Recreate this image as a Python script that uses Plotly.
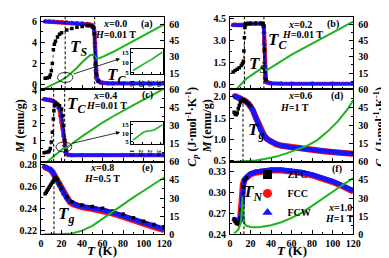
import plotly.graph_objects as go

W, H = 389, 258
FONT = "Liberation Serif"

# ---------------- data ----------------
# (a) x=0.0, H=0.01 T
Ta_zfc = [4, 6, 8, 9, 10, 11, 12, 13, 14, 16, 18, 20, 25, 30, 35, 40, 45, 48, 50, 51, 52, 53, 54, 56]
Ma_zfc = [0.6, 0.62, 0.7, 0.9, 1.3, 2.0, 3.3, 3.8, 4.1, 4.5, 4.75, 4.9, 5.15, 5.3, 5.42, 5.5, 5.55, 5.55, 5.5, 5.4, 4.8, 2.0, 1.0, 0.35]
Ta_fc = [4, 8, 12, 16, 20, 25, 30, 35, 40, 45, 48, 50, 51, 52, 52.5, 53, 53.5, 54, 55, 56, 58, 60, 65, 70, 80, 90, 100, 110, 120]
Ma_fcc = [5.97, 5.95, 5.93, 5.91, 5.89, 5.86, 5.83, 5.8, 5.77, 5.72, 5.66, 5.58, 5.45, 5.0, 3.6, 1.8, 1.3, 0.9, 0.5, 0.32, 0.2, 0.15, 0.12, 0.11, 0.1, 0.1, 0.1, 0.1, 0.1]
Ma_fcw = [5.95, 5.93, 5.91, 5.89, 5.87, 5.84, 5.81, 5.78, 5.75, 5.7, 5.64, 5.55, 5.4, 4.8, 4.0, 2.6, 1.4, 0.9, 0.5, 0.3, 0.2, 0.15, 0.12, 0.11, 0.1, 0.1, 0.1, 0.1, 0.1]
Ta_cp = [3, 10, 15, 20, 25, 30, 35, 40, 45, 48, 50, 52, 54, 57, 60, 70, 80, 90, 100, 110, 120]
Cpa = [0.5, 3.5, 6, 8.5, 11.5, 15.5, 20, 25, 29.5, 31.8, 32, 30.5, 28.8, 29, 30, 34.5, 39.5, 44.5, 50, 55, 60]
Ta_in = [15, 17, 19, 21, 23, 25, 27, 29, 31]
Cpa_in = [5.8, 7, 8.1, 9.2, 10.3, 11.3, 12.5, 13.8, 15]

# (b) x=0.2, H=0.01 T
Tb_zfc = [3, 5, 7, 9, 11, 12, 13, 13.5, 14, 14.5, 15, 17, 20, 25, 30, 32, 33, 33.5, 34, 35]
Mb_zfc = [0.85, 0.95, 1.05, 1.15, 1.3, 1.42, 1.6, 2.3, 3.2, 3.9, 4.15, 4.18, 4.19, 4.19, 4.19, 4.17, 4.0, 2.4, 0.9, 0.35]
Tb_fc = [3, 5, 8, 11, 13, 14, 15, 17, 20, 25, 30, 32, 33, 33.3, 33.6, 34, 34.5, 35, 36, 38, 40, 50, 60, 80, 100, 120]
Mb_fcc = [4.08, 4.07, 4.06, 4.05, 4.05, 4.08, 4.13, 4.15, 4.16, 4.17, 4.17, 4.14, 3.9, 3.0, 1.5, 0.6, 0.35, 0.22, 0.15, 0.1, 0.08, 0.06, 0.05, 0.05, 0.05, 0.05]
Mb_fcw = [4.08, 4.07, 4.06, 4.05, 4.05, 4.08, 4.13, 4.15, 4.16, 4.17, 4.17, 4.12, 3.6, 2.8, 2.3, 1.2, 0.45, 0.25, 0.15, 0.1, 0.08, 0.06, 0.05, 0.05, 0.05, 0.05]
Tb_cp = [6, 10, 13, 16, 20, 25, 30, 32, 33, 34, 36, 40, 50, 60, 70, 80, 90, 100, 110, 120]
Cpb = [0, 4, 7.5, 10, 12.5, 16, 19.5, 20.5, 19.8, 17.5, 17.8, 20, 26, 32, 37, 42, 47, 52, 57, 62.5]

# (c) x=0.4, H=0.01 T
Tc_zfc = [3, 5, 7, 8, 9, 10, 11, 12, 12.5, 13, 14, 16, 18, 20, 21, 22, 23, 24]
Mc_zfc = [0.25, 0.28, 0.3, 0.35, 0.5, 0.9, 1.5, 2.3, 2.8, 3.1, 3.25, 3.2, 3.1, 2.9, 2.5, 1.9, 1.0, 0.4]
Tc_fc = [3, 5, 8, 10, 12, 14, 16, 17, 18, 19, 20, 21, 22, 23, 24, 25, 27, 30, 40, 60, 80, 100, 120]
Mc_fcc = [3.5, 3.48, 3.46, 3.43, 3.38, 3.3, 3.2, 3.1, 2.9, 2.5, 2.1, 1.7, 1.3, 0.7, 0.3, 0.17, 0.12, 0.1, 0.1, 0.1, 0.1, 0.1, 0.1]
Mc_fcw = [3.5, 3.48, 3.46, 3.43, 3.38, 3.3, 3.15, 3.0, 2.95, 2.8, 2.5, 1.9, 1.3, 0.7, 0.3, 0.17, 0.12, 0.1, 0.1, 0.1, 0.1, 0.1, 0.1]
Tc_cp = [6, 10, 15, 20, 22, 24, 26, 30, 40, 50, 60, 70, 80, 90, 100, 110, 120]
Cpc = [0, 3, 6.5, 10, 11, 11.2, 12.2, 15, 21, 27, 32.5, 37.5, 42.5, 47, 51.5, 56, 60.5]
Tc_in = [15, 17, 19, 20, 21, 22, 23, 24, 25, 26, 27, 28, 29, 30, 31]
Cpc_in = [6, 7.8, 9.3, 10, 10.6, 11, 11.2, 11.2, 11.3, 11.6, 12.1, 12.7, 13.3, 14, 14.7]

# (d) x=0.6, H=1 T
Td_zfc = [4, 5, 6, 7, 8, 9, 10, 11, 12, 13, 14, 16, 18, 20]
Md_zfc = [1.64, 1.6, 1.58, 1.62, 1.72, 1.8, 1.87, 1.92, 1.94, 1.93, 1.91, 1.88, 1.84, 1.79]
Td_fc = [4, 6, 8, 10, 12, 15, 18, 20, 22, 25, 28, 30, 33, 36, 40, 45, 50, 60, 70, 80, 90, 100, 110, 120]
Md_fcc = [2.03, 2.01, 2.0, 1.98, 1.95, 1.9, 1.84, 1.78, 1.7, 1.52, 1.33, 1.22, 1.1, 1.01, 0.94, 0.88, 0.85, 0.81, 0.78, 0.75, 0.72, 0.7, 0.68, 0.66]
Md_fcw = [2.03, 2.01, 2.0, 1.98, 1.95, 1.9, 1.84, 1.78, 1.7, 1.52, 1.33, 1.22, 1.1, 1.01, 0.94, 0.88, 0.85, 0.81, 0.78, 0.75, 0.72, 0.7, 0.68, 0.66]
Td_cp = [5, 15, 25, 35, 45, 55, 65, 75, 85, 95, 105, 115, 120]
Cpd = [0, 0.3, 1, 2.5, 4.3, 7, 10, 13.2, 18, 25, 33.5, 44, 51]

# (e) x=0.8, H=0.5 T
Te_zfc = [4, 5, 6, 7, 8, 9, 10, 11, 12, 13, 14, 16, 18, 20, 25, 30, 40, 50, 60, 70, 80, 90, 100, 110, 120]
Me_zfc = [0.2535, 0.255, 0.2565, 0.258, 0.2595, 0.261, 0.2625, 0.264, 0.2655, 0.267, 0.2685, 0.2665, 0.2625, 0.2585, 0.2508, 0.2462, 0.2432, 0.2418, 0.2402, 0.2378, 0.235, 0.2317, 0.2283, 0.2255, 0.2228]
Te_fc = [3, 6, 9, 11, 12.5, 14, 16, 18, 20, 22, 25, 28, 31, 35, 40, 50, 60, 70, 80, 90, 100, 110, 120]
Me_fcc = [0.278, 0.277, 0.2755, 0.2735, 0.271, 0.2685, 0.265, 0.261, 0.257, 0.2533, 0.249, 0.246, 0.244, 0.2424, 0.2412, 0.2397, 0.238, 0.2354, 0.2325, 0.229, 0.2257, 0.223, 0.2204]
Me_fcw = [0.2785, 0.2775, 0.276, 0.274, 0.2715, 0.269, 0.2655, 0.2615, 0.2575, 0.254, 0.2498, 0.2468, 0.2448, 0.2432, 0.242, 0.2405, 0.2388, 0.2362, 0.2333, 0.2298, 0.2265, 0.2238, 0.2212]
Te_cp = [3, 10, 20, 30, 40, 50, 60, 70, 80, 90, 100, 110, 120]
Cpe = [0, 0, 0.2, 0.7, 3, 7, 13, 19, 25, 30.5, 36, 41.5, 47]

# (f) x=1.0, H=1 T
Tf_zfc = [4, 5, 6, 7, 8, 9, 10, 11, 12, 13, 14, 16]
Mf_zfc = [0.262, 0.259, 0.256, 0.255, 0.2555, 0.258, 0.263, 0.275, 0.29, 0.308, 0.317, 0.321]
Tf_fc = [4, 5, 6, 8, 10, 11, 12, 12.5, 13, 14, 16, 20, 25, 30, 40, 50, 60, 70, 80, 90, 100, 110, 120]
Mf_fcc = [0.261, 0.26, 0.258, 0.2565, 0.264, 0.275, 0.3, 0.312, 0.315, 0.318, 0.321, 0.326, 0.3285, 0.33, 0.3315, 0.3315, 0.3305, 0.328, 0.3245, 0.32, 0.315, 0.3085, 0.3015]
Mf_fcw = [0.262, 0.261, 0.259, 0.2575, 0.26, 0.268, 0.285, 0.3, 0.31, 0.318, 0.322, 0.327, 0.3295, 0.331, 0.3325, 0.3325, 0.3315, 0.329, 0.3255, 0.321, 0.316, 0.3095, 0.3025]
Tf_cp = [4, 6, 8, 10, 11, 11.5, 12, 12.5, 13, 14, 16, 18, 20, 25, 30, 40, 50, 60, 70, 80, 90, 100, 110, 120]
Cpf = [1, 2, 4, 8, 14, 22, 31, 25, 15, 9, 7, 6.3, 6, 5.8, 6, 7.5, 10, 13.5, 18, 23.5, 29.5, 35.5, 41, 46.5]

# transition temperatures (dashed markers)
Ta_trans = [23.5, 52.3]
Tb_trans = [14, 33]
Tc_trans = [12.3, 23]
Td_trans = [12.6]
Te_trans = [12.6]
Tf_trans = [13.5]

series_names = ["ZFC", "FCC", "FCW"]

# ---------------- helpers ----------------
def PX(x):
    return x / W

def PY(y):
    return 1 - y / H

cols = [(30, 157), (225, 352)]
rows = [(3, 79), (79, 155), (155, 231)]

BLACK, RED, BLUE, GREEN = "#000000", "#ff1010", "#1515ff", "#1cb41c"
tickfont = dict(family=FONT, size=10, color="black", weight="bold")

panels = [
    dict(col=0, row=0, Tz=Ta_zfc, Mz=Ma_zfc, Tf=Ta_fc, Mc=Ma_fcc, Mw=Ma_fcw, Tp=Ta_cp, Cp=Cpa,
         mr=[-0.45, 6.4], mt=[0, 2, 4, 6], mfmt="", mminor=1, mt0=0, cr=[0, 67], ct=[15, 30, 45, 60], bw=3.0),
    dict(col=1, row=0, Tz=Tb_zfc, Mz=Mb_zfc, Tf=Tb_fc, Mc=Mb_fcc, Mw=Mb_fcw, Tp=Tb_cp, Cp=Cpb,
         mr=[-0.33, 4.63], mt=[0, 1.5, 3, 4.5], mfmt=".1f", mminor=0.75, mt0=0, cr=[0, 67], ct=[15, 30, 45, 60], bw=3.0),
    dict(col=0, row=1, Tz=Tc_zfc, Mz=Mc_zfc, Tf=Tc_fc, Mc=Mc_fcc, Mw=Mc_fcw, Tp=Tc_cp, Cp=Cpc,
         mr=[-0.3, 4.1], mt=[0, 1, 2, 3, 4], mfmt="", mminor=0.5, mt0=0, cr=[0, 60], ct=[15, 30, 45, 60], bw=3.0),
    dict(col=1, row=1, Tz=Td_zfc, Mz=Md_zfc, Tf=Td_fc, Mc=Md_fcc, Mw=Md_fcw, Tp=Td_cp, Cp=Cpd,
         mr=[0.47, 2.18], mt=[0.5, 1.0, 1.5, 2.0], mfmt=".1f", mminor=0.25, mt0=0.5, cr=[0, 60], ct=[15, 30, 45, 60], bw=5.0),
    dict(col=0, row=2, Tz=Te_zfc, Mz=Me_zfc, Tf=Te_fc, Mc=Me_fcc, Mw=Me_fcw, Tp=Te_cp, Cp=Cpe,
         mr=[0.2165, 0.2828], mt=[0.22, 0.24, 0.26, 0.28], mfmt=".2f", mminor=0.01, mt0=0.22, cr=[0, 60], ct=[0, 15, 30, 45, 60], bw=5.0),
    dict(col=1, row=2, Tz=Tf_zfc, Mz=Mf_zfc, Tf=Tf_fc, Mc=Mf_fcc, Mw=Mf_fcw, Tp=Tf_cp, Cp=Cpf,
         mr=[0.24, 0.344], mt=[0.24, 0.27, 0.30, 0.33], mfmt=".2f", mminor=0.015, mt0=0.24, cr=[0, 60], ct=[0, 15, 30, 45, 60], bw=5.0),
]

fig = go.Figure()
layout = {}

for i, p in enumerate(panels, start=1):
    xa = "x" if i == 1 else f"x{i}"
    ym_i, yc_i = 2 * i - 1, 2 * i
    ym = "y" if ym_i == 1 else f"y{ym_i}"
    yc = f"y{yc_i}"
    x0, x1 = cols[p["col"]]
    y0, y1 = rows[p["row"]]
    xdom = [PX(x0), PX(x1)]
    ydom = [PY(y1), PY(y0)]
    bottom = p["row"] == 2

    layout["xaxis" if i == 1 else f"xaxis{i}"] = dict(
        domain=xdom, anchor=ym, range=[0, 120], tick0=0, dtick=20,
        ticks="inside", ticklen=4, tickwidth=1, tickcolor="black",
        minor=dict(ticks="inside", ticklen=2, dtick=10, tick0=0, tickcolor="black", showgrid=False),
        showline=True, linecolor="black", linewidth=1, mirror=True,
        showgrid=False, zeroline=False, showticklabels=bottom, tickfont=tickfont, ticklabelstandoff=0,
    )
    layout["yaxis" if ym_i == 1 else f"yaxis{ym_i}"] = dict(
        domain=ydom, anchor=xa, range=p["mr"], tickmode="array", tickvals=p["mt"], tickformat=p["mfmt"],
        ticks="inside", ticklen=4, tickwidth=1, tickcolor="black",
        minor=dict(ticks="inside", ticklen=2, dtick=p["mminor"], tick0=p["mt0"], tickcolor="black", showgrid=False),
        showline=True, linecolor="black", linewidth=1, showgrid=False, zeroline=False,
        tickfont=tickfont, ticklabelstandoff=1,
    )
    layout[f"yaxis{yc_i}"] = dict(
        domain=ydom, anchor=xa, overlaying=ym, side="right", range=p["cr"], tickmode="array", tickvals=p["ct"],
        ticks="inside", ticklen=4, tickwidth=1, tickcolor="black",
        minor=dict(ticks="inside", ticklen=2, dtick=7.5, tick0=0, tickcolor="black", showgrid=False),
        showline=True, linecolor="black", linewidth=1, showgrid=False, zeroline=False,
        tickfont=tickfont, ticklabelstandoff=2,
    )

    fig.add_trace(go.Scatter(x=p["Tf"], y=p["Mc"], xaxis=xa, yaxis=ym, mode="lines+markers",
                             line=dict(color=RED, width=p["bw"] + 1.2),
                             marker=dict(symbol="circle", size=4.5, color=RED), showlegend=False))
    fig.add_trace(go.Scatter(x=p["Tf"], y=p["Mw"], xaxis=xa, yaxis=ym, mode="lines+markers",
                             line=dict(color=BLUE, width=p["bw"]),
                             marker=dict(symbol="triangle-up", size=5, color=BLUE), showlegend=False))
    fig.add_trace(go.Scatter(x=p["Tz"], y=p["Mz"], xaxis=xa, yaxis=ym, mode="lines+markers",
                             line=dict(color=BLACK, width=0.7, dash="dot"),
                             marker=dict(symbol="square", size=3.5, color=BLACK), showlegend=False))
    fig.add_trace(go.Scatter(x=p["Tp"], y=p["Cp"], xaxis=xa, yaxis=yc, mode="lines",
                             line=dict(color=GREEN, width=2), showlegend=False))

# insets
insets = [
    dict(ix=7, iy=13, T=Ta_in, Cp=Cpa_in, box=(123, 156, 37, 63)),
    dict(ix=8, iy=14, T=Tc_in, Cp=Cpc_in, box=(123, 156, 113, 136)),
]
smallfont = dict(family=FONT, size=7, color="black", weight="bold")
for s in insets:
    bx0, bx1, by0, by1 = s["box"]
    layout[f"xaxis{s['ix']}"] = dict(domain=[PX(bx0), PX(bx1)], anchor=f"y{s['iy']}", range=[14, 31.5],
                                     tickvals=[15, 20, 25, 30], ticks="inside", ticklen=2, tickcolor="black",
                                     showline=True, linecolor="black", linewidth=1, mirror=True,
                                     showgrid=False, zeroline=False, tickfont=smallfont, ticklabelstandoff=0)
    layout[f"yaxis{s['iy']}"] = dict(domain=[PY(by1), PY(by0)], anchor=f"x{s['ix']}", range=[4, 16.5],
                                     tickvals=[5, 10, 15], ticks="inside", ticklen=2, tickcolor="black",
                                     showline=True, linecolor="black", linewidth=1, mirror=True,
                                     showgrid=False, zeroline=False, tickfont=smallfont, ticklabelstandoff=0)
    fig.add_trace(go.Scatter(x=s["T"], y=s["Cp"], xaxis=f"x{s['ix']}", yaxis=f"y{s['iy']}", mode="lines",
                             line=dict(color=GREEN, width=1.6), showlegend=False))

# legend entries (panel f)
for nm, sym, colr in zip(series_names, ["square", "circle", "triangle-up"], [BLACK, RED, BLUE]):
    fig.add_trace(go.Scatter(x=[None], y=[None], xaxis="x6", yaxis="y11", mode="markers", name=nm,
                             marker=dict(symbol=sym, size=9, color=colr), showlegend=True))

# dashed transition lines
shapes = []
def vline(xref, yref, T, ya, yb):
    shapes.append(dict(type="line", xref=xref, yref=yref, x0=T, x1=T, y0=ya, y1=yb,
                       line=dict(color="black", width=1, dash="3px,2px")))

for T in Ta_trans:
    vline("x", "y domain", T, 0, 1)
for T in Tb_trans:
    vline("x2", "y3 domain", T, 0, 1)
for T in Tc_trans:
    vline("x3", "y5 domain", T, 0, 1)
for T in Td_trans:
    vline("x4", "y7", T, 0.47, 1.95)
for T in Te_trans:
    vline("x5", "y9", T, 0.2165, 0.2675)
for T in Tf_trans:
    vline("x6", "y11", T, 0.24, 0.318)

# ellipses
shapes.append(dict(type="circle", xref="x", yref="y", x0=16, x1=31, y0=0.2, y1=1.15,
                   line=dict(color="black", width=0.8)))
shapes.append(dict(type="circle", xref="x3", yref="y5", x0=14.5, x1=30, y0=0.3, y1=0.9,
                   line=dict(color="black", width=0.8)))

annotations = []
def txt(s, x, y, size=10, bold=True, xanchor="center", yanchor="middle"):
    annotations.append(dict(text=s, x=PX(x), y=PY(y), xref="paper", yref="paper", showarrow=False,
                            xanchor=xanchor, yanchor=yanchor,
                            font=dict(family=FONT, size=size, color="black", weight="bold" if bold else "normal")))

# arrows from ellipse to inset
annotations.append(dict(text="", x=77, y=2.45, xref="x", yref="y", ax=30, ay=0.95, axref="x", ayref="y",
                        showarrow=True, arrowhead=2, arrowsize=1, arrowwidth=0.8, arrowcolor="black"))
annotations.append(dict(text="", x=77, y=1.5, xref="x3", yref="y5", ax=29, ay=0.8, axref="x3", ayref="y5",
                        showarrow=True, arrowhead=2, arrowsize=1, arrowwidth=0.8, arrowcolor="black"))

# panel texts
txt("<i>x</i>=0.0", 106, 10); txt("(a)", 139, 10); txt("<i>H</i>=0.01 T", 107, 21)
txt("<i>x</i>=0.2", 297, 11); txt("(b)", 331, 11); txt("<i>H</i>=0.01 T", 300, 22)
txt("<i>x</i>=0.4", 96, 85); txt("(c)", 140, 85); txt("<i>H</i>=0.01 T", 98, 96)
txt("<i>x</i>=0.6", 297, 86); txt("(d)", 335, 86); txt("<i>H</i>=1 T", 292, 98)
txt("<i>x</i>=0.8", 93, 161); txt("(e)", 140, 161); txt("<i>H</i>=0.5 T", 93, 172)
txt("(f)", 335, 163); txt("<i>x</i>=1.0", 338, 203); txt("<i>H</i>=1 T", 338, 214)

# transition labels
big = 17
txt("<i>T<sub>S</sub></i>", 69, 36, big)
txt("<i>T<sub>C</sub></i>", 108, 65, big)
txt("<i>T<sub>C</sub></i>", 274, 28, big)
txt("<i>T<sub>S</sub></i>", 253, 53, big)
txt("<i>T<sub>C</sub></i>", 67, 95, big)
txt("<i>T<sub>g</sub></i>", 252, 123, big)
txt("<i>T<sub>g</sub></i>", 56, 211, big)
txt("<i>T<sub>N</sub></i>", 248, 188, big)

# axis titles
cp_title = "<i>C<sub>p</sub></i> (J·mol<sup>-1</sup>·K<sup>-1</sup>)"
m_title = "<i>M</i> (emu/g)"
for (s, x) in [(m_title, 8), (cp_title, 186), (m_title, 201), (cp_title, 380)]:
    annotations.append(dict(text=s, x=PX(x), y=PY(118), xref="paper", yref="paper", showarrow=False,
                            textangle=-90, xanchor="center", yanchor="middle",
                            font=dict(family=FONT, size=12, color="black", weight="bold")))
txt("<i>T</i> (K)", 93, 258, 13, yanchor="bottom")
txt("<i>T</i> (K)", 289, 258, 13, yanchor="bottom")

layout.update(
    width=W, height=H, margin=dict(l=0, r=0, t=0, b=0),
    paper_bgcolor="white", plot_bgcolor="white",
    shapes=shapes, annotations=annotations,
    showlegend=True,
    legend=dict(x=PX(243), y=PY(153), xanchor="left", yanchor="top", bgcolor="rgba(0,0,0,0)",
                font=dict(family=FONT, size=10, color="black", weight="bold"),
                itemwidth=30, tracegroupgap=0),
)
fig.update_layout(**layout)
fig.write_html("out.html")
